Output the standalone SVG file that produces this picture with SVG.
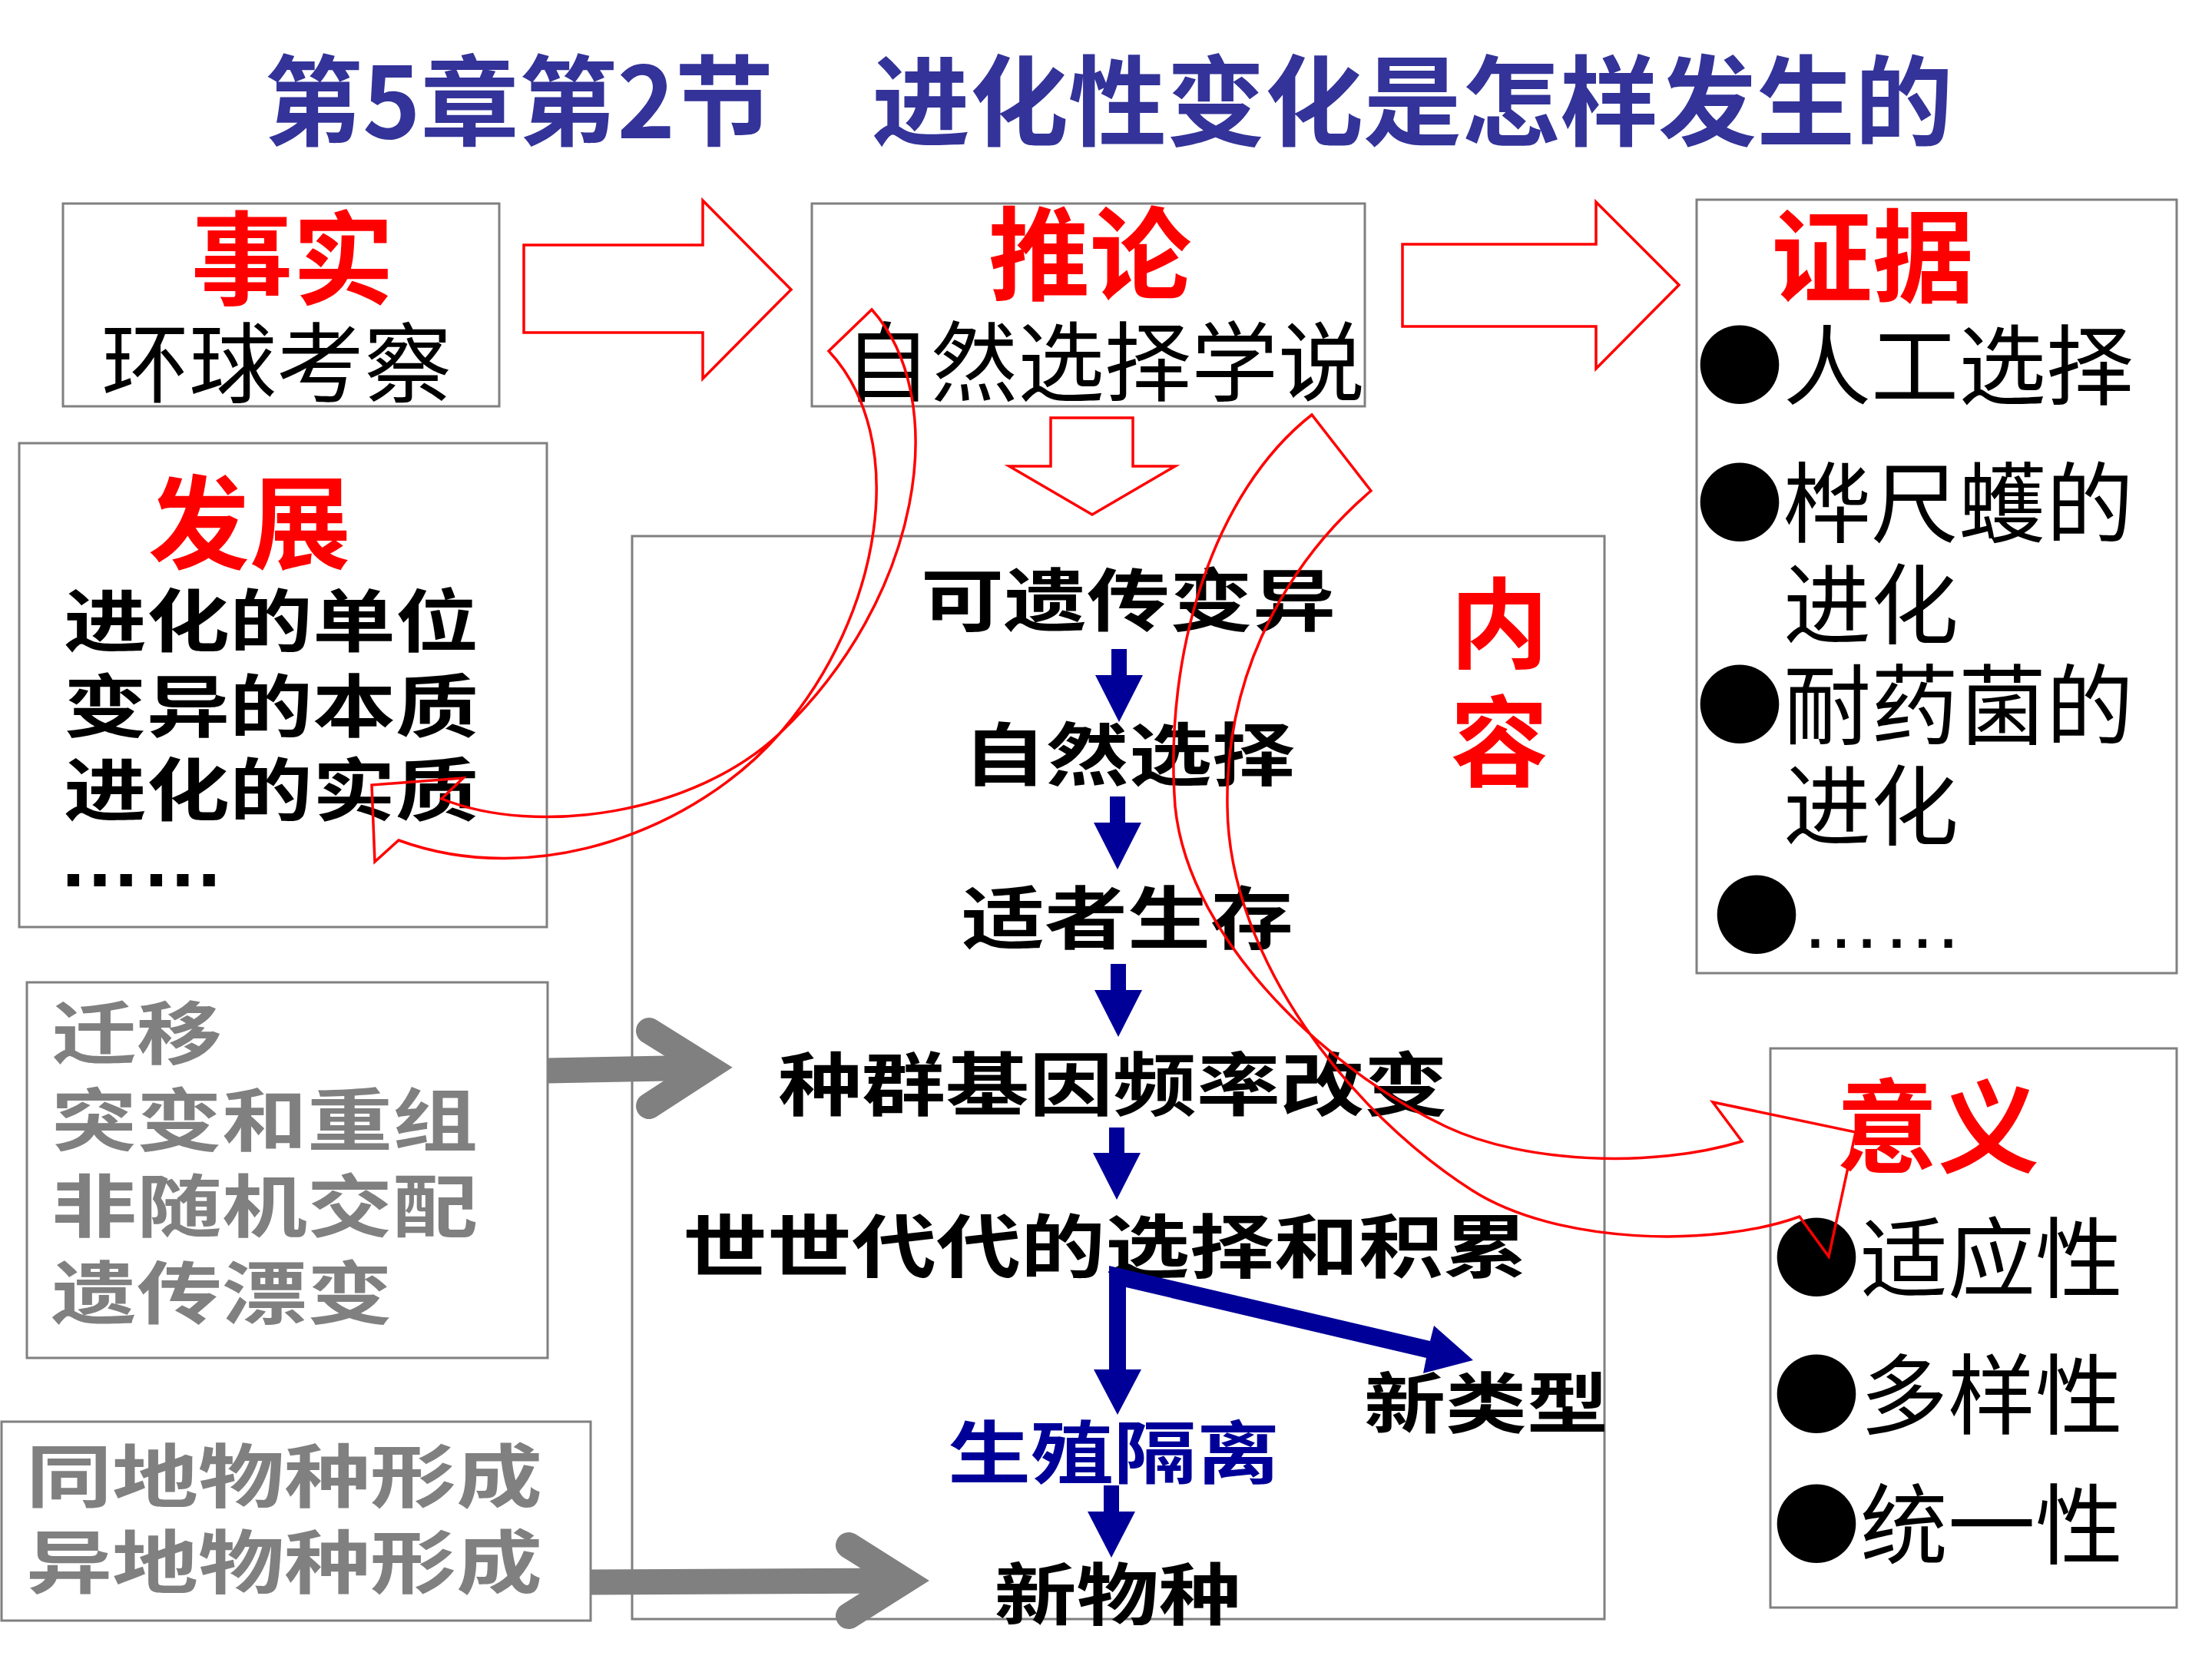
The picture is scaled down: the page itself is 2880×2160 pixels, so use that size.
<svg xmlns="http://www.w3.org/2000/svg" width="2880" height="2160" viewBox="0 0 2880 2160">
<defs>
<style>
.box{fill:none;stroke:#808080;stroke-width:3}
.ttl{font-family:"Noto Sans CJK SC",sans-serif;font-weight:bold;font-size:128px;fill:#333399}
.h{font-family:"Noto Sans CJK SC",sans-serif;font-weight:bold;font-size:132px;fill:#ff0000;text-anchor:middle}
.t{font-family:"Noto Sans CJK SC",sans-serif;font-size:114px;fill:#000000}
.c{font-family:"Noto Sans CJK SC",sans-serif;font-weight:bold;font-size:108px;fill:#000000}
.gr{fill:#808080}
.bl{fill:#000099}
.mid{text-anchor:middle}
.dots{font-family:"Liberation Sans",sans-serif}
.ra{fill:none;stroke:#ff0000;stroke-width:3.5;stroke-linejoin:miter}
.ba{fill:#000099}
.gs{fill:none;stroke:#808080;stroke-width:33}
.gc{fill:none;stroke:#808080;stroke-width:34;stroke-linecap:round;stroke-linejoin:miter}
</style>
</defs>
<rect width="2880" height="2160" fill="#ffffff"/>

<g id="title">
<text class="ttl" x="344" y="180">第5章第2节　进化性变化是怎样发生的</text>
</g>

<g id="fact">
<rect class="box" x="82" y="265" width="568" height="264"/>
<text class="h" x="381" y="386">事实</text>
<text class="t mid" x="360" y="515">环球考察</text>
</g>

<g id="inference">
<rect class="box" x="1057" y="265" width="720" height="264"/>
<text class="h" x="1419" y="380">推论</text>
<text class="t mid" x="1438" y="513" style="font-size:113px">自然选择学说</text>
</g>

<g id="evidence">
<rect class="box" x="2209" y="260" width="625" height="1007"/>
<text class="h" x="2438" y="383">证据</text>
<text class="t" x="2208" y="518">●人工选择</text>
<text class="t" x="2208" y="697">●桦尺蠖的</text>
<text class="t" x="2322" y="829">进化</text>
<text class="t" x="2208" y="960">●耐药菌的</text>
<text class="t" x="2322" y="1091">进化</text>
<text class="t" x="2230" y="1234">●<tspan class="dots" style="font-size:106px">……</tspan></text>
</g>

<g id="development">
<rect class="box" x="25" y="577" width="687" height="630"/>
<text class="h" x="325" y="730">发展</text>
<text class="c" transform="matrix(1,0,0,0.82,83,841)">进化的单位</text>
<text class="c" transform="matrix(1,0,0,0.82,83,952)">变异的本质</text>
<text class="c" transform="matrix(1,0,0,0.82,83,1061)">进化的实质</text>
<text class="c dots" x="76" y="1154" style="font-size:108px">……</text>
</g>

<g id="factors">
<rect class="box" x="35" y="1279" width="678" height="489"/>
<text class="c gr" style="font-size:111px" transform="matrix(1,0,0,0.8,67,1378)">迁移</text>
<text class="c gr" style="font-size:111px" transform="matrix(1,0,0,0.8,67,1491)">突变和重组</text>
<text class="c gr" style="font-size:111px" transform="matrix(1,0,0,0.8,67,1603)">非随机交配</text>
<text class="c gr" style="font-size:111px" transform="matrix(1,0,0,0.8,67,1716)">遗传漂变</text>
</g>

<g id="speciation">
<rect class="box" x="2" y="1851" width="767" height="259"/>
<text class="c gr" style="font-size:112px" transform="matrix(1,0,0,0.8,34,1955)">同地物种形成</text>
<text class="c gr" style="font-size:112px" transform="matrix(1,0,0,0.8,34,2067)">异地物种形成</text>
</g>

<g id="content">
<rect class="box" x="823" y="698" width="1266" height="1410"/>
<text class="h" x="1952" y="860" style="font-size:128px">内</text>
<text class="h" x="1952" y="1014" style="font-size:128px">容</text>
<text class="c mid" transform="matrix(1,0,0,0.82,1469,814)">可遗传变异</text>
<text class="c mid" transform="matrix(1,0,0,0.82,1470,1015)">自然选择</text>
<text class="c mid" transform="matrix(1,0,0,0.82,1468,1228)">适者生存</text>
<text class="c mid" style="font-size:109px" transform="matrix(1,0,0,0.82,1449,1445)">种群基因频率改变</text>
<text class="c mid" style="font-size:110px" transform="matrix(1,0,0,0.82,1439,1656)">世世代代的选择和积累</text>
<text class="c mid" style="font-size:106px" transform="matrix(1,0,0,0.82,1935,1859)">新类型</text>
<text class="c mid bl" transform="matrix(1,0,0,0.82,1450,1924)">生殖隔离</text>
<text class="c mid" style="font-size:107px" transform="matrix(1,0,0,0.82,1455,2108)">新物种</text>
</g>

<g id="meaning">
<rect class="box" x="2305" y="1365" width="529" height="728"/>
<text class="h" x="2523" y="1516">意义</text>
<text class="t" x="2308" y="1680">●适应性</text>
<text class="t" x="2308" y="1858">●多样性</text>
<text class="t" x="2308" y="2027">●统一性</text>
</g>

<g id="connectors">
<path class="ra" d="M682,319 L915,319 L915,261 L1030,377 L915,493 L915,433 L682,433 Z"/>
<path class="ra" d="M1826,318 L2078,318 L2078,263 L2186,371 L2078,480 L2078,425 L1826,425 Z"/>
<path class="ra" d="M1368,544 L1475,544 L1475,607 L1530,607 L1422,670 L1314,607 L1368,607 Z"/>
<path class="ra" d="M1079,457 L1135,403 C1240,520 1200,780 1015,955 C904,1060 700,1090 575,1040 L603,1013 L484,1022 L488,1122 L519,1094 C700,1160 907,1079 1015,955 C1150,800 1185,570 1079,457 Z"/>
<path class="ra" d="M1785,639 L1708,540 C1580,640 1515,850 1530,1050 C1548,1230 1740,1400 1883,1467 C1983,1514 2150,1522 2268,1486 L2230,1435 L2416,1474 L2381,1636 L2343,1584 C2230,1625 2027,1620 1917,1550 C1760,1450 1600,1250 1598,1050 C1595,860 1690,720 1785,639 Z"/>
<polygon class="ba" points="1447,845 1467,845 1467,879 1488,879 1457,940 1426,879 1447,879"/>
<polygon class="ba" points="1445,1037 1465,1037 1465,1071 1486,1071 1455,1132 1424,1071 1445,1071"/>
<polygon class="ba" points="1446,1255 1466,1255 1466,1289 1487,1289 1456,1350 1425,1289 1446,1289"/>
<polygon class="ba" points="1444,1468 1464,1468 1464,1501 1485,1501 1454,1562 1423,1501 1444,1501"/>
<path class="ba" d="M1444,1648 L1862,1746 L1867,1726 L1918,1771 L1853,1788 L1857,1768 L1466,1676 L1466,1783 L1486,1783 L1455,1842 L1424,1783 L1444,1783 Z"/>
<polygon class="ba" points="1437,1934 1457,1934 1457,1968 1478,1968 1447,2028 1416,1968 1437,1968"/>
<line class="gs" x1="713" y1="1394" x2="920" y2="1390"/>
<polyline class="gc" points="845,1342 922,1390 845,1440"/>
<line class="gs" x1="769" y1="2060" x2="1172" y2="2058"/>
<polyline class="gc" points="1105,2012 1178,2058 1105,2104"/>
</g>
</svg>
